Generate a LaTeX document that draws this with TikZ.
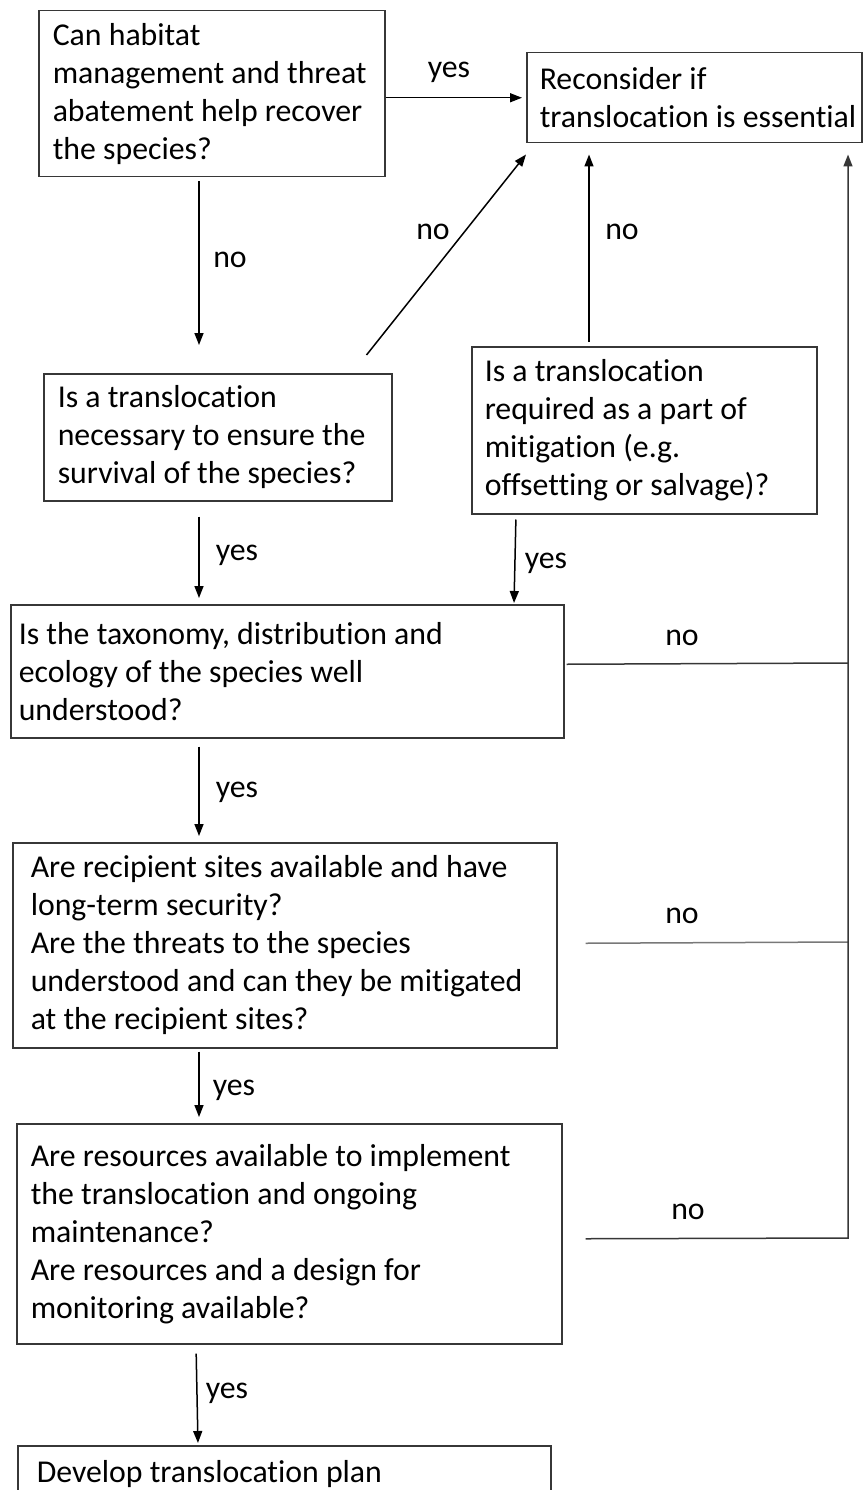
\documentclass[tikz,border=0pt]{standalone}
\usepackage{fontspec}
\setmainfont{Carlito}[Ligatures=NoCommon]
\usetikzlibrary{arrows.meta,positioning,calc}
\definecolor{boxGrey}{RGB}{55,55,55}
\definecolor{railGrey}{RGB}{120,120,120}
\newcommand{\flowfont}{\fontsize{31.8}{38}\selectfont}

\tikzset{
  qbox/.style={draw=boxGrey, line width=1.5pt, anchor=north west, align=flush left,
    inner xsep=0pt, inner ysep=0pt, font=\flowfont},
  arr/.style={line width=1.5pt, -{Triangle[length=12pt,width=9pt]}},
  lbl/.style={font=\flowfont, inner sep=0pt},
  noline/.style={line width=1.5pt, draw=boxGrey}
}

\begin{document}
\begin{tikzpicture}[x=1pt,y=-1pt]
  \useasboundingbox (0,0) rectangle (862,1490);
  % boxes
  \node[qbox, minimum width=346pt, minimum height=166pt, text width=318pt]
    (habitat) at (38,10)
    {Can habitat\\management and threat\\abatement help recover\\the species?};
  \node[qbox, minimum width=335pt, minimum height=90pt, text width=309pt]
    (reconsider) at (526,52)
    {Reconsider if\\\mbox{translocation is essential}};
  \node[qbox, minimum width=348pt, minimum height=127pt, text width=320pt]
    (necessary) at (43,373)
    {Is a translocation\\necessary to ensure the\\survival of the species?};
  \node[qbox, minimum width=345pt, minimum height=167pt, text width=319pt]
    (mitigation) at (471,346)
    {Is a translocation\\required as a part of\\mitigation (e.g.\\offsetting or salvage)?};
  \node[qbox, minimum width=553pt, minimum height=133pt, text width=537pt]
    (taxonomy) at (10,604)
    {Is the taxonomy, distribution and\\ecology of the species well\\understood?};
  \node[qbox, minimum width=544pt, minimum height=205pt, text width=508pt]
    (sites) at (12,842)
    {Are recipient sites available and have\\long-term security?\\Are the threats to the species\\understood and can they be mitigated\\at the recipient sites?};
  \node[qbox, minimum width=545pt, minimum height=220pt, text width=517pt]
    (resources) at (16,1123)
    {Are resources available to implement\\the translocation and ongoing\\maintenance?\\Are resources and a design for\\monitoring available?};
  \node[qbox, minimum width=533pt, minimum height=56pt, text width=495pt]
    (plan) at (17,1445)
    {Develop translocation plan};

  % columns and the rail on the right
  \coordinate (colL) at (199,0);
  \coordinate (colC) at (589,0);
  \coordinate (jD) at (848,663);
  \coordinate (jE) at (848,942);
  \coordinate (jF) at (848,1238);

  % arrows
  \draw[arr, shorten >=4pt] (habitat.east |- reconsider.west) -- (reconsider.west);
  \draw[arr, shorten <=4pt, shorten >=28pt] (habitat.south -| colL) -- (necessary.north -| colL);
  \draw[arr] ($(necessary.north east)+(-26,-18)$) -- ($(reconsider.south west)+(0,11)$);
  \draw[arr, shorten <=4pt, shorten >=11pt] (mitigation.north -| colC) -- (reconsider.south -| colC);
  \draw[arr, shorten <=15pt, shorten >=6pt] (necessary.south -| colL) -- (taxonomy.north -| colL);
  \draw[arr, shorten <=5pt, shorten >=1pt] ($(mitigation.south west)+(45,0)$) -- ($(taxonomy.north west)+(504,0)$);
  \draw[arr, shorten <=8pt, shorten >=6pt] (taxonomy.south -| colL) -- (sites.north -| colL);
  \draw[arr, shorten <=3pt, shorten >=6pt] (sites.south -| colL) -- (resources.north -| colL);
  \draw[arr, shorten <=9pt, shorten >=2pt] ($(resources.south west)+(180,0)$) -- ($(plan.north west)+(181,0)$);

  % no lines to the rail
  \draw[noline] ($(taxonomy.east)+(2,-7)$) -- (jD);
  \draw[noline, draw=railGrey] ($(sites.east)+(28,-2)$) -- (jE);
  \draw[noline, arr, shorten >=11pt] ($(resources.east)+(23,5)$) -- (jF) -- (reconsider.south -| jF);

  % labels
  \node[lbl] (yesA) at (449,72) {yes};
  \node[lbl] (noA) at (230,260) {no};
  \node[lbl] (noB) at (433,232) {no};
  \node[lbl] (noC) at (622,232) {no};
  \node[lbl] (yesB) at (237,555) {yes};
  \node[lbl] (yesC) at (546,563) {yes};
  \node[lbl] (noD) at (682,638) {no};
  \node[lbl] (yesD) at (237,792) {yes};
  \node[lbl] (noE) at (682,916) {no};
  \node[lbl] (yesE) at (234,1090) {yes};
  \node[lbl] (noF) at (688,1212) {no};
  \node[lbl] (yesF) at (227,1393) {yes};
\end{tikzpicture}
\end{document}
